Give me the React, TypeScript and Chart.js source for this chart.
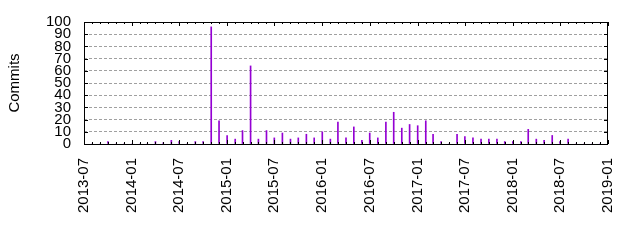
import { useEffect, useRef } from 'react';
import { Chart, registerables } from 'chart.js';

Chart.register(...registerables);

// Monthly commit counts (month start -> commits)
const months = [
  '2013-07', '2013-08', '2013-09', '2013-10', '2013-11', '2013-12',
  '2014-01', '2014-02', '2014-03', '2014-04', '2014-05', '2014-06',
  '2014-07', '2014-08', '2014-09', '2014-10', '2014-11', '2014-12',
  '2015-01', '2015-02', '2015-03', '2015-04', '2015-05', '2015-06',
  '2015-07', '2015-08', '2015-09', '2015-10', '2015-11', '2015-12',
  '2016-01', '2016-02', '2016-03', '2016-04', '2016-05', '2016-06',
  '2016-07', '2016-08', '2016-09', '2016-10', '2016-11', '2016-12',
  '2017-01', '2017-02', '2017-03', '2017-04', '2017-05', '2017-06',
  '2017-07', '2017-08', '2017-09', '2017-10', '2017-11', '2017-12',
  '2018-01', '2018-02', '2018-03', '2018-04', '2018-05', '2018-06',
  '2018-07', '2018-08', '2018-09', '2018-10', '2018-11', '2018-12',
];
const commits = [
  0, 0, 0, 2, 0, 0,
  0, 0, 0, 2, 1, 3,
  2, 0, 2, 2, 96, 19,
  7, 4, 11, 64, 4, 11,
  5, 9, 4, 5, 8, 5,
  10, 4, 18, 5, 14, 3,
  9, 5, 18, 26, 13, 16,
  15, 19, 8, 2, 0, 8,
  6, 5, 4, 4, 4, 2,
  2, 2, 12, 4, 3, 7,
  2, 4, 0, 0, 0, 0,
];
const xTickLabels = [
  '2013-07', '2014-01', '2014-07', '2015-01', '2015-07', '2016-01',
  '2016-07', '2017-01', '2017-07', '2018-01', '2018-07', '2019-01',
];
const yTickValues = [0, 10, 20, 30, 40, 50, 60, 70, 80, 90, 100];
const xStart = '2013-07';
const xEnd = '2019-01';
const yTitle = 'Commits';

const FONT = "'Liberation Sans', Arial, sans-serif";

function dayOf(ym: string): number {
  const [y, m] = ym.split('-').map(Number);
  const [y0, m0] = xStart.split('-').map(Number);
  return (Date.UTC(y, m - 1, 1) - Date.UTC(y0, m0 - 1, 1)) / 86400000;
}

const minorTickMonths = months.concat([xEnd]);
const yMin = yTickValues[0];
const yMax = yTickValues[yTickValues.length - 1];

const framePlugin = {
  id: 'gnuplotFrame',
  afterDatasetsDraw(chart: any) {
    const { ctx, chartArea: a, scales } = chart;
    const x = scales.x;
    const y = scales.y;
    ctx.save();
    ctx.strokeStyle = '#000';
    ctx.lineWidth = 1;
    ctx.beginPath();
    // y major ticks (inward, mirrored)
    yTickValues.forEach((v) => {
      const py = Math.round(y.getPixelForValue(v)) + 0.5;
      ctx.moveTo(a.left, py);
      ctx.lineTo(a.left + 4, py);
      ctx.moveTo(a.right, py);
      ctx.lineTo(a.right - 4, py);
    });
    // x minor ticks (monthly)
    minorTickMonths.forEach((m) => {
      const px = Math.round(x.getPixelForValue(dayOf(m))) + 0.5;
      ctx.moveTo(px, a.bottom);
      ctx.lineTo(px, a.bottom - 2);
      ctx.moveTo(px, a.top);
      ctx.lineTo(px, a.top + 2);
    });
    // x major ticks
    xTickLabels.forEach((m) => {
      const px = Math.round(x.getPixelForValue(dayOf(m))) + 0.5;
      ctx.moveTo(px, a.bottom);
      ctx.lineTo(px, a.bottom - 4);
      ctx.moveTo(px, a.top);
      ctx.lineTo(px, a.top + 4);
    });
    ctx.stroke();
    ctx.strokeRect(a.left + 0.5, a.top + 0.5, a.right - a.left - 1, a.bottom - a.top);
    ctx.restore();
  },
};

export default function App() {
  const canvasRef = useRef<HTMLCanvasElement | null>(null);

  useEffect(() => {
    document.body.style.margin = '0';
    const canvas = canvasRef.current;
    if (!canvas) return;
    const chart = new Chart(canvas, {
      type: 'bar',
      data: {
        datasets: [
          {
            label: 'Commits',
            data: months.map((m, i) => ({ x: dayOf(m), y: commits[i] })),
            backgroundColor: '#9400D3',
            borderWidth: 0,
            barThickness: 1,
          },
        ],
      },
      options: {
        responsive: false,
        animation: false,
        devicePixelRatio: 1,
        layout: { padding: { top: 20, right: 31, left: 0, bottom: 0 } },
        plugins: { legend: { display: false }, tooltip: { enabled: false } },
        scales: {
          x: {
            type: 'linear',
            min: 0,
            max: dayOf(xEnd),
            offset: false,
            grid: { display: false, drawTicks: false, offset: false },
            border: { display: false },
            afterBuildTicks: (scale: any) => {
              scale.ticks = xTickLabels.map((l) => ({ value: dayOf(l) }));
            },
            afterFit: (scale: any) => {
              scale.height = 96;
            },
            ticks: {
              autoSkip: false,
              minRotation: 90,
              maxRotation: 90,
              padding: 14,
              color: '#000',
              font: { family: FONT, size: 15 },
              callback: (_v: any, i: number) => xTickLabels[i],
            },
          },
          y: {
            type: 'linear',
            min: yMin,
            max: yMax,
            grid: {
              drawTicks: false,
              color: (c: any) =>
                c.tick && (c.tick.value === yMin || c.tick.value === yMax) ? 'rgba(0,0,0,0)' : '#a0a0a0',
              lineWidth: 1,
            },
            border: { display: false, dash: [3, 2] },
            afterBuildTicks: (scale: any) => {
              scale.ticks = yTickValues.map((v) => ({ value: v }));
            },
            afterFit: (scale: any) => {
              scale.width = 84;
            },
            title: {
              display: true,
              text: yTitle,
              color: '#000',
              font: { family: FONT, size: 15 },
              padding: { top: 6, bottom: 0 },
            },
            ticks: {
              autoSkip: false,
              padding: 13,
              color: '#000',
              font: { family: FONT, size: 15 },
              callback: (v: any) => String(v),
            },
          },
        },
      },
      plugins: [framePlugin],
    });
    return () => chart.destroy();
  }, []);

  return (
    <div style={{ position: 'absolute', left: 0, top: 0, width: 640, height: 240, background: '#fff' }}>
      <canvas ref={canvasRef} width={640} height={240} style={{ display: 'block' }} />
    </div>
  );
}
